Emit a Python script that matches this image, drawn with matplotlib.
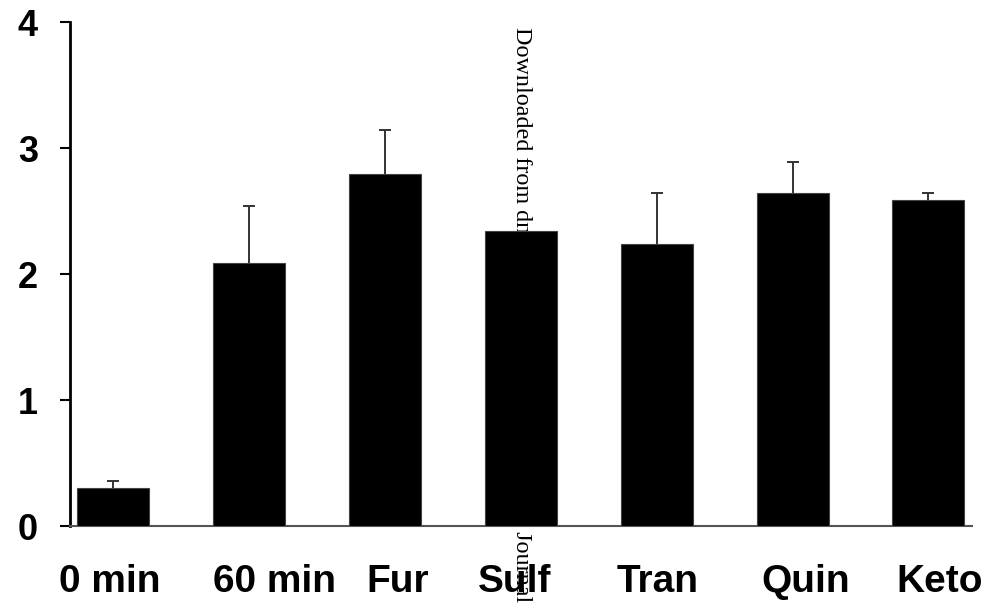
import numpy as np
import matplotlib.pyplot as plt
import matplotlib.transforms as mtransforms

# 数据
labels = ['0 min', '60 min', 'Fur', 'Sulf', 'Tran', 'Quin', 'Keto']
means = [0.30, 2.09, 2.79, 2.34, 2.24, 2.64, 2.59]
errors = [0.06, 0.45, 0.35, 0.0, 0.40, 0.25, 0.055]
yticks = [0, 1, 2, 3, 4]

# 标签的水平偏移（像素）
label_shift = [-3, 26, 13, -6, 1, 13, 11]

fig = plt.figure(figsize=(9.98, 6.04), dpi=100)
ax = fig.add_axes([0.0701, 0.1291, 0.9038, 0.8344])
ax.patch.set_visible(False)
ax.set_zorder(2)

x = np.arange(len(labels))
ax.bar(x, means, width=0.53, color='black', edgecolor='#444444', linewidth=0.8,
       zorder=3)

# 误差线（只画上半部分）
m = np.array(errors) > 0
eb = ax.errorbar(x[m], np.array(means)[m], yerr=[np.zeros(m.sum()), np.array(errors)[m]],
                 fmt='none', ecolor='#333333', elinewidth=1.4, capsize=4,
                 capthick=1.4, zorder=2)
eb[1][0].set_visible(False)

ax.set_xlim(-0.317, 6.32)
ax.set_ylim(0, 4)
ax.set_yticks(yticks)
ax.set_yticklabels([str(t) for t in yticks], fontsize=26, fontweight='bold',
                   family='Liberation Sans')
ax.set_xticks([])

trans = mtransforms.blended_transform_factory(ax.transData, ax.transAxes)
for xi, lab, dx in zip(x, labels, label_shift):
    t = trans + mtransforms.ScaledTranslation(dx / 100, -0.38, fig.dpi_scale_trans)
    ax.text(xi, 0, lab, transform=t, ha='center', va='top', fontsize=28,
            fontweight='bold', family='Liberation Sans')

ax.tick_params(axis='y', direction='out', length=7, width=1.5, pad=16)

ax.spines['top'].set_visible(False)
ax.spines['right'].set_visible(False)
ax.spines['left'].set_linewidth(2)
ax.spines['bottom'].set_linewidth(1.5)
ax.spines['bottom'].set_color('#555555')

# 水印（被柱子遮挡）
fig.text(0.523, 0.955,
         'Downloaded from dmd.aspetjournals.org at ASPET Journals on April 16, 2024',
         rotation=-90, ha='center', va='top', fontsize=17.4,
         family='Liberation Serif', color='black', zorder=1)

fig.savefig('out.png', dpi=100)
